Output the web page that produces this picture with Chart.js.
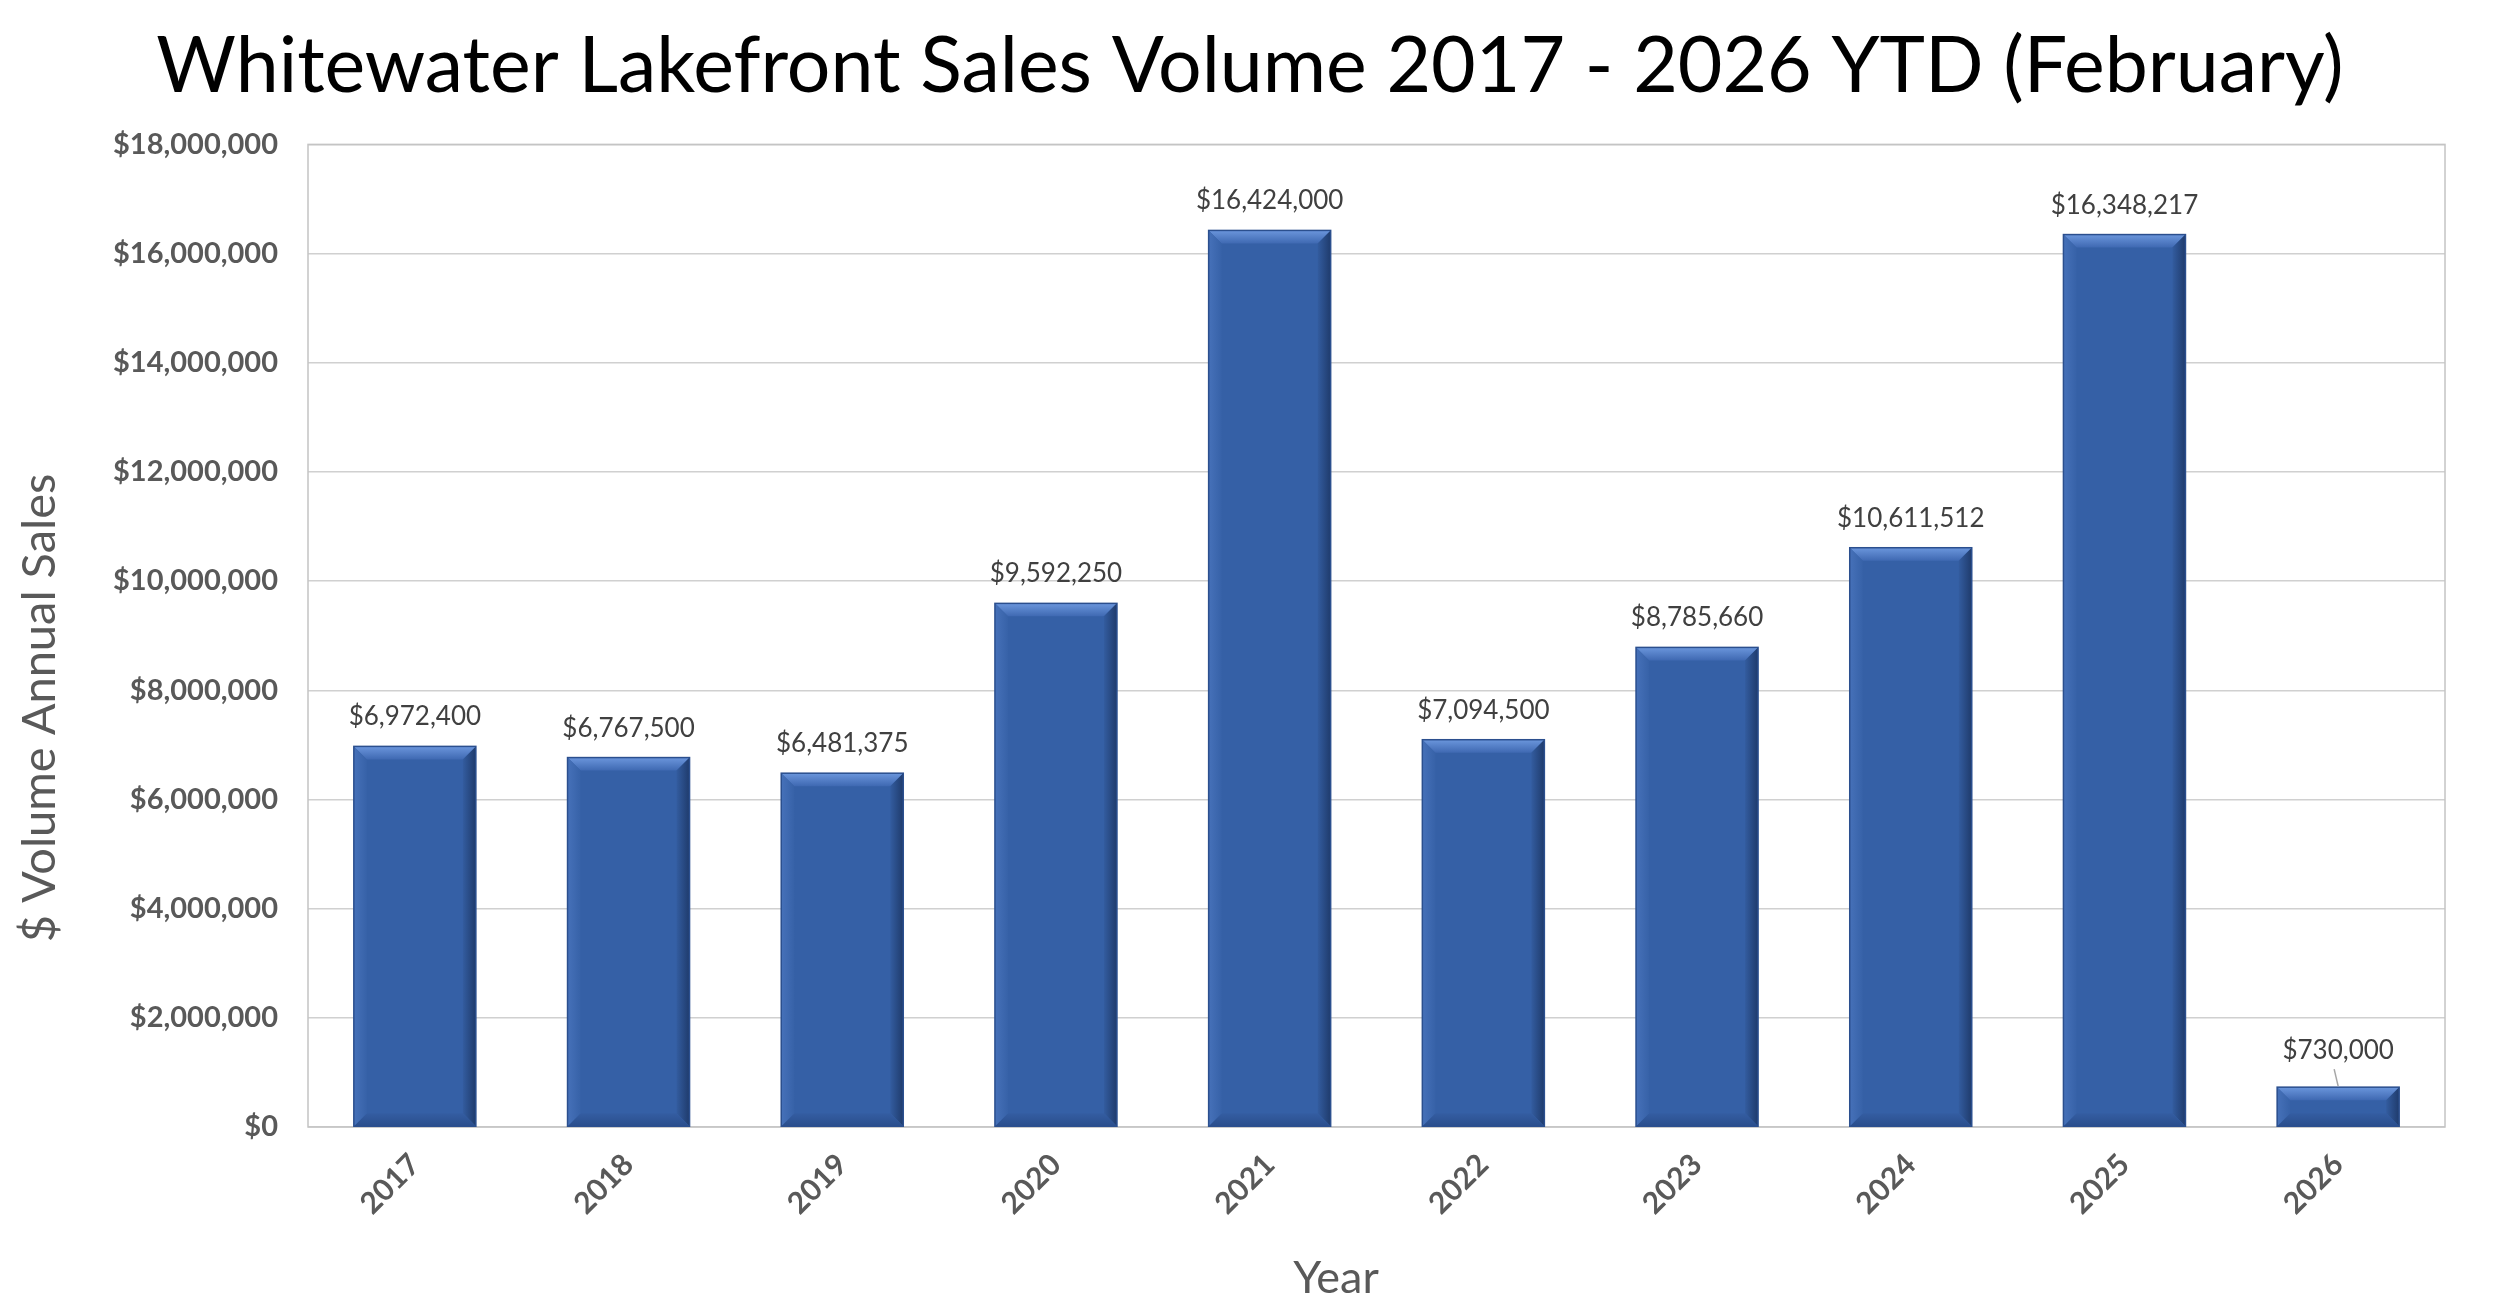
<!DOCTYPE html>
<html>
<head>
<meta charset="utf-8">
<title>Whitewater Lakefront Sales Volume</title>
<script src="https://cdn.jsdelivr.net/npm/chart.js"></script>
<style>
  html, body { margin: 0; padding: 0; background: #fff; }
  #wrap { width: 2500px; height: 1314px; }
</style>
</head>
<body>
<div id="wrap"><canvas id="salesChart" width="2500" height="1314"></canvas></div>
<script>
// data
const years = ['2017', '2018', '2019', '2020', '2021', '2022', '2023', '2024', '2025', '2026'];
const salesVolume = [6972400, 6767500, 6481375, 9592250, 16424000, 7094500, 8785660, 10611512, 16348217, 730000];
const yTicks = [0, 2000000, 4000000, 6000000, 8000000, 10000000, 12000000, 14000000, 16000000, 18000000];

const chartTitle = 'Whitewater Lakefront Sales Volume 2017 - 2026 YTD (February)';
const yAxisTitle = '$ Volume Annual Sales';
const xAxisTitle = 'Year';

const FONT = 'Lato, "Open Sans", sans-serif';

function money(v) {
    return '$' + Number(v).toLocaleString('en-US');
}

// light grey frame round the plot area
const plotFrame = {
    id: 'plotFrame',
    beforeDatasetsDraw(chart) {
        const a = chart.chartArea, ctx = chart.ctx;
        ctx.save();
        ctx.strokeStyle = '#c4c4c4';
        ctx.lineWidth = 1.5;
        ctx.strokeRect(a.left, a.top, a.right - a.left, a.bottom - a.top);
        ctx.restore();
    }
};

// Excel-like bevel on each bar
function quad(ctx, pts, fill) {
    ctx.beginPath();
    ctx.moveTo(pts[0][0], pts[0][1]);
    for (let i = 1; i < pts.length; i++) ctx.lineTo(pts[i][0], pts[i][1]);
    ctx.closePath();
    ctx.fillStyle = fill;
    ctx.fill();
}

const barBevel = {
    id: 'barBevel',
    afterDatasetsDraw(chart) {
        const ctx = chart.ctx;
        chart.getDatasetMeta(0).data.forEach(bar => {
            const l = bar.x - bar.width / 2, r = bar.x + bar.width / 2;
            const t = bar.y, b = bar.base;
            const d = Math.min(13, (b - t) / 2.5);
            ctx.save();
            let g = ctx.createLinearGradient(0, t, 0, t + d);
            g.addColorStop(0, '#6b96dc');
            g.addColorStop(1, '#3f69b2');
            quad(ctx, [[l, t], [r, t], [r - d, t + d], [l + d, t + d]], g);
            g = ctx.createLinearGradient(r - d, 0, r, 0);
            g.addColorStop(0, '#335c9f');
            g.addColorStop(1, '#1f3b6c');
            quad(ctx, [[r, t], [r, b], [r - d, b - d], [r - d, t + d]], g);
            g = ctx.createLinearGradient(0, b - d, 0, b);
            g.addColorStop(0, '#345da2');
            g.addColorStop(1, '#2a4e8c');
            quad(ctx, [[l, b], [r, b], [r - d, b - d], [l + d, b - d]], g);
            g = ctx.createLinearGradient(l, 0, l + d, 0);
            g.addColorStop(0, '#4671b9');
            g.addColorStop(1, '#3762a8');
            quad(ctx, [[l, t], [l, b], [l + d, b - d], [l + d, t + d]], g);
            ctx.strokeStyle = '#2b4f8e';
            ctx.lineWidth = 1.5;
            ctx.strokeRect(l, t, r - l, b - t);
            ctx.restore();
        });
    }
};

// value labels above the bars, with a leader for very short bars
const valueLabels = {
    id: 'valueLabels',
    afterDraw(chart) {
        const ctx = chart.ctx;
        const ds = chart.data.datasets[0];
        ctx.save();
        ctx.font = '26px ' + FONT;
        ctx.fillStyle = '#404040';
        ctx.textAlign = 'center';
        ctx.textBaseline = 'alphabetic';
        chart.getDatasetMeta(0).data.forEach((bar, i) => {
            const short = bar.base - bar.y < 50;
            const lift = short ? 28 : 21;
            ctx.fillText(money(ds.data[i]), bar.x, bar.y - lift);
            if (short) {
                ctx.strokeStyle = '#a6a6a6';
                ctx.lineWidth = 1.5;
                ctx.beginPath();
                ctx.moveTo(bar.x - 4, bar.y - 18);
                ctx.lineTo(bar.x, bar.y - 1);
                ctx.stroke();
            }
        });
        ctx.restore();
    }
};

// axis titles sit where Excel put them, not centred on the axes
const axisTitles = {
    id: 'axisTitles',
    afterDraw(chart) {
        const ctx = chart.ctx;
        ctx.save();
        ctx.fillStyle = '#595959';
        ctx.textAlign = 'center';
        ctx.textBaseline = 'alphabetic';
        ctx.font = '45px ' + FONT;
        ctx.fillText(xAxisTitle, 1336, 1293);
        ctx.translate(55, 708);
        ctx.rotate(-Math.PI / 2);
        ctx.font = '47px ' + FONT;
        ctx.fillText(yAxisTitle, 0, 0);
        ctx.restore();
    }
};

const ctx = document.getElementById('salesChart').getContext('2d');
new Chart(ctx, {
    type: 'bar',
    data: {
        labels: years,
        datasets: [{
            label: 'Sales Volume',
            data: salesVolume,
            backgroundColor: '#3560a6',
            borderWidth: 0,
            barPercentage: 0.571,
            categoryPercentage: 1.0
        }]
    },
    options: {
        responsive: false,
        animation: false,
        devicePixelRatio: 1,
        // equal side padding keeps the title centred on the canvas
        layout: { padding: { top: 0, right: 55, bottom: 0, left: 55 } },
        plugins: {
            legend: { display: false },
            tooltip: { enabled: false },
            title: {
                display: true,
                text: chartTitle,
                color: '#000000',
                font: { family: FONT, size: 77, weight: 'normal' },
                padding: { top: 21, bottom: 31 }
            }
        },
        scales: {
            x: {
                grid: { display: false, drawTicks: false },
                border: { display: false },
                ticks: {
                    color: '#595959',
                    font: { family: FONT, size: 30, weight: 'bold' },
                    minRotation: 45,
                    maxRotation: 45,
                    padding: 20
                },
                afterFit(scale) { scale.height = 187; }
            },
            y: {
                min: 0,
                max: 18000000,
                grid: { color: '#d0d0d0', lineWidth: 1.5, drawTicks: false },
                border: { display: false },
                afterBuildTicks(scale) {
                    scale.ticks = yTicks.map(v => ({ value: v }));
                },
                ticks: {
                    color: '#595959',
                    font: { family: FONT, size: 29, weight: 'bold' },
                    padding: 30,
                    callback: v => money(v)
                },
                afterFit(scale) { scale.width = 253; }
            }
        }
    },
    plugins: [plotFrame, barBevel, valueLabels, axisTitles]
});
</script>
</body>
</html>
